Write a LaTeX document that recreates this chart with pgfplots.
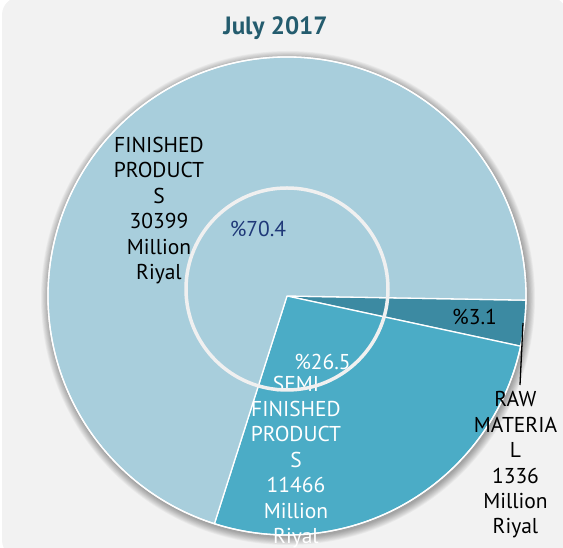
\documentclass[border=0pt]{standalone}
\usepackage{pgfplots}
\pgfplotsset{compat=1.18}
\usepackage{pgfplotstable}
\usepackage{fontspec}
\setmainfont{PT Sans}

\definecolor{bgc}{RGB}{242,242,242}
\definecolor{finc}{RGB}{168,206,220}
\definecolor{semic}{RGB}{75,172,198}
\definecolor{rawc}{RGB}{60,138,162}
\definecolor{titlec}{RGB}{36,92,110}
\definecolor{pctc}{RGB}{31,56,120}
\definecolor{ringc}{RGB}{240,240,240}

\tikzset{lbl/.style={font=\fontsize{21.5}{25.4}\selectfont, align=center, inner sep=0pt}}

\pgfplotstableread{
name value
raw  1336
semi 11466
fin  30399
}\slices

\begin{document}
\begin{tikzpicture}
\pgfplotstablegetelem{0}{value}\of\slices \let\vRaw\pgfplotsretval
\pgfplotstablegetelem{1}{value}\of\slices \let\vSemi\pgfplotsretval
\pgfplotstablegetelem{2}{value}\of\slices \let\vFin\pgfplotsretval
\edef\total{\fpeval{\vRaw+\vSemi+\vFin}}
% slice boundaries, clockwise from just below 3 o'clock
\edef\aA{-1.0}
\edef\aB{\fpeval{\aA-360*\vRaw/\total}}
\edef\aC{\fpeval{\aB-360*\vSemi/\total}}
\edef\aD{\fpeval{\aC-360*\vFin/\total}}
\edef\pRaw{\fpeval{round(100*\vRaw/\total,1)}}
\edef\pSemi{\fpeval{round(100*\vSemi/\total,1)}}
\edef\pFin{\fpeval{round(100*\vFin/\total,1)}}
\def\R{239}
\begin{axis}[
  x=1pt, y=1pt,
  xmin=0, xmax=563, ymin=0, ymax=560,
  hide axis, clip=false, disabledatascaling,
  anchor=origin,
]
  % panel background (does not widen the picture)
  \fill[bgc, rounded corners=18pt, overlay] (axis cs:2,2) rectangle (axis cs:567,563);

  % soft shadow round the pie
  \pgfplotsinvokeforeach{10,9,...,1}{
    \fill[black, opacity=0.035] (axis cs:288,262) circle[radius=\R+#1*0.8];
  }

  % slices
  \filldraw[rawc, draw=white, line width=1.3pt, line join=round]
    (axis cs:287,264) -- ++(\aA:\R) arc[start angle=\aA, end angle=\aB, radius=\R] -- cycle;
  \filldraw[semic, draw=white, line width=1.3pt, line join=round]
    (axis cs:287,264) -- ++(\aB:\R) arc[start angle=\aB, end angle=\aC, radius=\R] -- cycle;
  \filldraw[finc, draw=white, line width=1.3pt, line join=round]
    (axis cs:287,264) -- ++(\aC:\R) arc[start angle=\aC, end angle=\aD, radius=\R] -- cycle;
  \draw[white, line width=1.3pt] (axis cs:287,264) circle[radius=\R];

  % title
  \node[anchor=base, text=titlec, font=\bfseries\fontsize{25}{30}\selectfont]
    at (axis cs:275.5,525) {July 2017};

  % labels
  \node[lbl, anchor=north, text=black] at (axis cs:159,423)
    {FINISHED\\PRODUCT\\S\\30399\\Million\\Riyal};
  \node[lbl, anchor=base, text=pctc] at (axis cs:258,323) {\%\pFin};
  \node[lbl, anchor=base, text=white] at (axis cs:322.5,190) {\%\pSemi};
  \node[lbl, anchor=base, text=black] at (axis cs:474.5,235) {\%\pRaw};
  \begin{scope}
    \clip (axis cs:0,12.5) rectangle (axis cs:563,560);
    \node[lbl, anchor=north, text=white] at (axis cs:296,184.5)
      {SEMI\\FINISHED\\PRODUCT\\S\\11466\\Million\\Riyal};
  \end{scope}
  \node[lbl, anchor=north, text=black] at (axis cs:515.5,168.5)
    {RAW\\MATERIA\\L\\1336\\Million\\Riyal};
  \draw[black, line width=1.3pt] (axis cs:523,237) -- (axis cs:520,175);

  % inner ring
  \draw[ringc, line width=3.5pt] (axis cs:287,271) circle[radius=101];
\end{axis}
\end{tikzpicture}
\end{document}
